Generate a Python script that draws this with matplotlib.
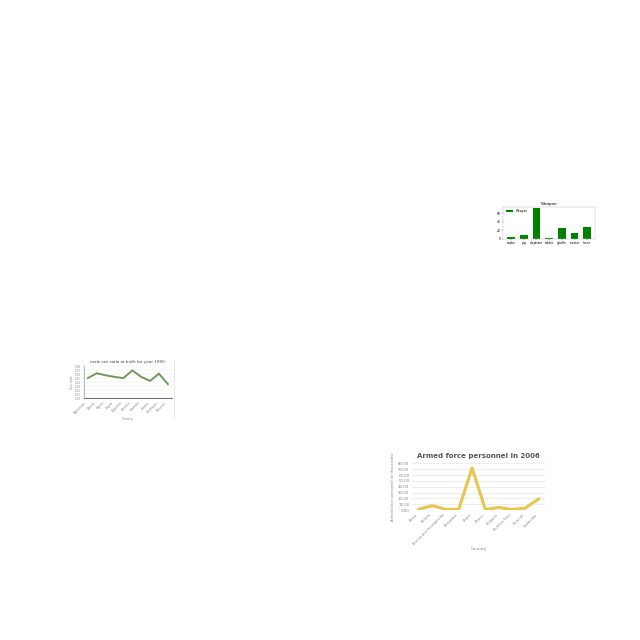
import matplotlib
matplotlib.use("Agg")
import matplotlib.pyplot as plt

# weapon bar chart
weapons = ["snake", "pig", "elephant", "rabbit", "giraffe", "rooster", "horse"]
weapon_counts = [3, 9, 72, 2, 25, 13, 28]

# sex ratio line chart
sr_countries = ["Afghanistan", "Albania", "Algeria", "Angola", "Argentina",
                "Armenia", "Australia", "Austria", "Azerbaijan", "Bahamas"]
sex_ratio = [1.050, 1.062, 1.057, 1.053, 1.050, 1.069, 1.053, 1.043, 1.061, 1.035]

# armed forces line chart
af_countries = ["Benin", "Bolivia", "Bosnia and Herzegovina", "Botswana", "Brazil",
                "Brunei", "Bulgaria", "Burkina Faso", "Burundi", "Cambodia"]
armed_force = [1.5, 7.5, 1.5, 1.5, 72.0, 1.0, 4.5, 1.0, 3.5, 19.0]

fig = plt.figure(figsize=(6.4, 6.4), dpi=100)

# --- Weapon ---
ax1 = fig.add_axes([0.786, 0.627, 0.144, 0.050])
ax1.bar(weapons, weapon_counts, width=0.6, color="green", label="Weapon")
ax1.set_title("Weapon", fontsize=3, pad=1.5)
ax1.set_yticks([0, 20, 40, 60])
ax1.tick_params(labelsize=2.2, length=1, width=0.3, pad=1)
ax1.set_ylim(0, 75)
for s in ax1.spines.values():
    s.set_linewidth(0.3)
    s.set_color("#bbbbbb")
ax1.legend(loc="upper left", fontsize=2.2, frameon=False, handlelength=2.5)

# --- sex ratio ---
ax2 = fig.add_axes([0.131, 0.378, 0.1375, 0.050])
ax2.plot(sr_countries, sex_ratio, color="#6f9a5c", lw=1.4)
ax2.set_title("male sex ratio at birth for year 1990", fontsize=3, pad=2, color="#444444")
ax2.set_ylim(1.00, 1.08)
ax2.set_yticks([1.00, 1.01, 1.02, 1.03, 1.04, 1.05, 1.06, 1.07, 1.08])
ax2.yaxis.grid(True, color="#e6e6e6", lw=0.3)
ax2.set_axisbelow(True)
ax2.tick_params(labelsize=2, length=1, width=0.3, pad=1, colors="#888888")
ax2.set_xticks(range(len(sr_countries)))
ax2.set_xticklabels(sr_countries, rotation=45, ha="right")
ax2.set_xlabel("Country", fontsize=2.2, color="#888888", labelpad=1.5)
ax2.set_ylabel("Sex ratio", fontsize=2.2, color="#888888", labelpad=1)
ax2.spines["top"].set_visible(False)
ax2.spines["right"].set_visible(False)
ax2.spines["left"].set_linewidth(0.4)
ax2.spines["bottom"].set_linewidth(0.6)
ax2.spines["bottom"].set_color("#555555")
ax2.spines["left"].set_color("#888888")
fig.add_artist(plt.Line2D([0.272, 0.272], [0.347, 0.438], color="#dddddd", lw=0.5))

# --- armed force ---
ax3 = fig.add_axes([0.644, 0.203, 0.208, 0.073])
ax3.plot(af_countries, armed_force, color="#e3c13b", lw=2.2, alpha=0.9)
ax3.set_title("Armed force personnel in 2006", fontsize=5, pad=4,
              color="#555555", fontweight="bold")
ax3.set_ylim(0, 80)
ax3.set_yticks(range(0, 81, 10))
ax3.set_yticklabels([f"{v:.2f}" for v in range(0, 81, 10)])
ax3.yaxis.grid(True, color="#e6e6e6", lw=0.5)
ax3.set_axisbelow(True)
ax3.tick_params(axis="y", labelsize=2.8, length=0, pad=2, colors="#888888")
ax3.tick_params(axis="x", labelsize=2.5, length=0, pad=2, colors="#888888")
ax3.set_xticks(range(len(af_countries)))
ax3.set_xticklabels(af_countries, rotation=45, ha="right")
ax3.set_xlabel("Country", fontsize=3, color="#888888", labelpad=1)
ax3.set_ylabel("Armed force personnel (in thousands)", fontsize=2.6,
               color="#888888", labelpad=2)
for s in ax3.spines.values():
    s.set_visible(False)
ax3.set_xlim(-0.5, 9.5)

fig.savefig("out.png", dpi=100)
